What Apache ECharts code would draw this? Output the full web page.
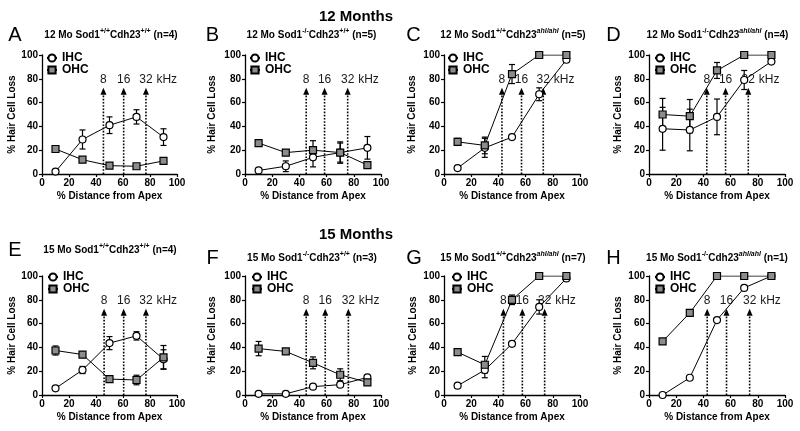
<!DOCTYPE html>
<html><head><meta charset="utf-8">
<script src="https://cdn.jsdelivr.net/npm/echarts@6/dist/echarts.min.js"></script>
<style>html,body{margin:0;padding:0;background:#fff}#c{width:800px;height:431px}</style>
</head><body><div id="c"></div>
<script>
// ---------- DATA ----------
const distances = [10, 30, 50, 70, 90];
const rowTitles = ['12 Months', '15 Months'];
const panelLetters = ['A', 'B', 'C', 'D', 'E', 'F', 'G', 'H'];
const panelAges = ['12 Mo', '12 Mo', '12 Mo', '12 Mo', '15 Mo', '15 Mo', '15 Mo', '15 Mo'];
const sodGenotypes = ['+/+', '-/-', '+/+', '-/-', '+/+', '-/-', '+/+', '-/-'];
const cdhGenotypes = ['+/+', '+/+', 'ahl/ahl', 'ahl/ahl', '+/+', '+/+', 'ahl/ahl', 'ahl/ahl'];
const nCounts = [4, 5, 5, 4, 4, 3, 7, 1];
const freqLabels = ['8', '16', '32'];
const freqUnit = 'kHz';
const seriesNames = ['IHC', 'OHC'];
const xAxisTitle = '% Distance from Apex';
const yAxisTitle = '% Hair Cell Loss';

// Panel A
const ihcA = [2, 29, 41, 48, 31];      const ihcErrA = [0, 8, 7, 6, 7];
const ohcA = [21, 12, 7, 6.5, 11];     const ohcErrA = [2.5, 1, 0, 0, 1];
const freqA = [45.5, 60.5, 77];
// Panel B
const ihcB = [3, 6.5, 14, 18, 22];     const ihcErrB = [1, 4.5, 8, 9, 9.5];
const ohcB = [26, 18, 20, 18, 7.5];    const ohcErrB = [2, 2, 8, 8, 2];
const freqB = [45, 58.5, 75.5];
// Panel C
const ihcC = [5, 22, 31, 67, 96];      const ihcErrC = [0, 8, 2, 5.4, 2];
const ohcC = [27, 24, 84, 100, 100];   const ohcErrC = [3, 7, 8, 0, 0];
const freqC = [42.6, 57, 73];
// Panel D
const ihcD = [38, 37, 48, 79, 94.5];   const ihcErrD = [18, 17.5, 15, 8, 1];
const ohcD = [50, 48.6, 87, 100, 100]; const ohcErrD = [13.5, 14, 6.7, 0, 0];
const freqD = [42.5, 56.3, 73];
// Panel E
const ihcE = [5.6, 21, 43.6, 49.7, 30];   const ihcErrE = [0, 3, 5.5, 3.5, 8];
const ohcE = [37.4, 34, 13.4, 12.6, 31.6]; const ohcErrE = [3.8, 1.5, 1.5, 4, 10];
const freqE = [46, 60.5, 77];
// Panel F
const ihcF = [1, 1, 7, 8.7, 14.8];     const ihcErrF = [0, 0, 1, 1, 1];
const ohcF = [39, 36.6, 27, 17, 10.6]; const ohcErrF = [6, 2, 5, 5, 2];
const freqF = [45, 59, 76];
// Panel G
const ihcG = [7.8, 21, 43, 74, 98];    const ihcErrG = [0, 6.5, 1, 6, 1];
const ohcG = [36, 25.4, 80, 100, 100]; const ohcErrG = [1, 7, 4, 0, 0];
const freqG = [43.7, 57.6, 74];
// Panel H (n=1, no error bars)
const ihcH = [0, 14.5, 63, 90, 100];   const ihcErrH = [0, 0, 0, 0, 0];
const ohcH = [45, 69, 100, 100, 100];  const ohcErrH = [0, 0, 0, 0, 0];
const freqH = [42.8, 57, 74];

const ARROW_TIP = 72.5;
const ARROW_LABEL = 79;

// ---------- LAYOUT ----------
const panels = [
  {ihc: ihcA, ihcErr: ihcErrA, ohc: ohcA, ohcErr: ohcErrA, freq: freqA},
  {ihc: ihcB, ihcErr: ihcErrB, ohc: ohcB, ohcErr: ohcErrB, freq: freqB},
  {ihc: ihcC, ihcErr: ihcErrC, ohc: ohcC, ohcErr: ohcErrC, freq: freqC},
  {ihc: ihcD, ihcErr: ihcErrD, ohc: ohcD, ohcErr: ohcErrD, freq: freqD},
  {ihc: ihcE, ihcErr: ihcErrE, ohc: ohcE, ohcErr: ohcErrE, freq: freqE},
  {ihc: ihcF, ihcErr: ihcErrF, ohc: ohcF, ohcErr: ohcErrF, freq: freqF},
  {ihc: ihcG, ihcErr: ihcErrG, ohc: ohcG, ohcErr: ohcErrG, freq: freqG},
  {ihc: ihcH, ihcErr: ihcErrH, ohc: ohcH, ohcErr: ohcErrH, freq: freqH}
];
const colLeft = [42, 245, 444, 649];
const colWidth = [135, 136, 136, 136];
const rowTop = [55, 276];
const plotH = 119;
const yNameGap = [23, 28, 27, 26, 24, 28, 26, 26];
const legendLeft = [46, 249, 447, 654, 47, 251, 451, 654];
const legendTop = [52, 271];
const headerY = [35, 35, 35, 35, 250, 258, 258, 258];
const letterX = [15, 212.5, 413.5, 613.5, 15, 212.5, 414, 613.5];
const subX = [111, 311.5, 513, 717.5, 110, 312, 513, 717];
const rowTitleY = [17, 235];

const FONT = '"Liberation Sans", Arial, sans-serif';
const GRAY = '#8c8c8c';

function errRender(params, api) {
  const x = api.value(0), m = api.value(1), e = api.value(2);
  if (!e) return null;
  const lo = api.coord([x, m - e]), hi = api.coord([x, m + e]);
  const cw = 3, st = {stroke: '#000', lineWidth: 1.2};
  return {type: 'group', children: [
    {type: 'line', shape: {x1: lo[0], y1: lo[1], x2: hi[0], y2: hi[1]}, style: st},
    {type: 'line', shape: {x1: lo[0] - cw, y1: lo[1], x2: lo[0] + cw, y2: lo[1]}, style: st},
    {type: 'line', shape: {x1: hi[0] - cw, y1: hi[1], x2: hi[0] + cw, y2: hi[1]}, style: st}
  ]};
}

function arrowRender(params, api) {
  const x = api.value(0), idx = api.value(1);
  const base = api.coord([x, 0]);
  const tip = api.coord([x, ARROW_TIP]);
  const lbl = api.coord([x, ARROW_LABEL]);
  const hh = 7, hw = 3;
  const children = [
    {type: 'line', shape: {x1: base[0], y1: base[1], x2: tip[0], y2: tip[1] + hh},
     style: {stroke: '#000', lineWidth: 1.6, lineDash: [1.6, 1.6]}},
    {type: 'polygon', shape: {points: [[tip[0], tip[1]], [tip[0] - hw, tip[1] + hh], [tip[0] + hw, tip[1] + hh]]},
     style: {fill: '#000'}},
    {type: 'text', style: {text: freqLabels[idx], x: lbl[0], y: lbl[1], align: 'center', verticalAlign: 'middle',
      textAlign: 'center', textVerticalAlign: 'middle', fontSize: 12, fontFamily: FONT, fill: '#1a1a1a'}}
  ];
  if (idx === freqLabels.length - 1) {
    children.push({type: 'text', style: {text: freqUnit, x: lbl[0] + 10.5, y: lbl[1], align: 'left', verticalAlign: 'middle',
      textAlign: 'left', textVerticalAlign: 'middle', fontSize: 12, fontFamily: FONT, fill: '#1a1a1a'}});
  }
  return {type: 'group', children};
}

const grids = [], xAxes = [], yAxes = [], series = [], legends = [], graphics = [];
const axisCommon = {
  type: 'value', min: 0, max: 100, interval: 20,
  axisLine: {show: true, onZero: false, lineStyle: {color: '#000', width: 1.3}},
  axisTick: {show: true, length: 3, lineStyle: {color: '#000', width: 1.2}},
  splitLine: {show: false},
  axisLabel: {color: '#000', fontSize: 10, fontWeight: 'bold', fontFamily: FONT, margin: 4},
  nameLocation: 'middle',
  nameTextStyle: {color: '#000', fontSize: 10, fontWeight: 'bold', fontFamily: FONT}
};

panels.forEach((p, i) => {
  const col = i % 4, row = Math.floor(i / 4);
  grids.push({left: colLeft[col], top: rowTop[row], width: colWidth[col], height: plotH, containLabel: false});
  xAxes.push(Object.assign({}, axisCommon, {gridIndex: i, name: xAxisTitle, nameGap: 17}));
  yAxes.push(Object.assign({}, axisCommon, {gridIndex: i, name: yAxisTitle, nameGap: yNameGap[i]}));

  series.push({type: 'custom', name: 'IHC err', xAxisIndex: i, yAxisIndex: i, z: 1, silent: true,
    renderItem: errRender, data: distances.map((d, k) => [d, p.ihc[k], p.ihcErr[k]])});
  series.push({type: 'custom', name: 'OHC err', xAxisIndex: i, yAxisIndex: i, z: 1, silent: true,
    renderItem: errRender, data: distances.map((d, k) => [d, p.ohc[k], p.ohcErr[k]])});
  series.push({type: 'custom', name: 'freq', xAxisIndex: i, yAxisIndex: i, z: 1, silent: true,
    renderItem: arrowRender, data: p.freq.map((f, k) => [f, k])});
  series.push({type: 'line', name: seriesNames[0], xAxisIndex: i, yAxisIndex: i, z: 3,
    symbol: 'circle', symbolSize: 7, showAllSymbol: true,
    lineStyle: {color: '#000', width: 1},
    itemStyle: {color: '#fff', borderColor: '#000', borderWidth: 1.2},
    data: distances.map((d, k) => [d, p.ihc[k]])});
  series.push({type: 'line', name: seriesNames[1], xAxisIndex: i, yAxisIndex: i, z: 4,
    symbol: 'rect', symbolSize: 7, showAllSymbol: true,
    lineStyle: {color: '#000', width: 1},
    itemStyle: {color: GRAY, borderColor: '#000', borderWidth: 1.2},
    data: distances.map((d, k) => [d, p.ohc[k]])});

  legends.push({orient: 'vertical', left: legendLeft[i], top: legendTop[row], padding: 0,
    itemWidth: 10, itemHeight: 9, itemGap: 0, selectedMode: false, data: seriesNames,
    textStyle: {color: '#000', fontSize: 12, fontWeight: 'bold', fontFamily: FONT, lineHeight: 12}});

  graphics.push({type: 'text', x: letterX[i], y: headerY[i], silent: true,
    style: {text: panelLetters[i], align: 'center', verticalAlign: 'middle', textAlign: 'center', textVerticalAlign: 'middle',
      fontSize: 20, fontFamily: FONT, fill: '#000'}});
  const cdhIsAhl = cdhGenotypes[i].indexOf('ahl') >= 0;
  const sub = '{b|' + panelAges[i] + ' Sod1}{s|' + sodGenotypes[i] + '}{b|Cdh23}{' + (cdhIsAhl ? 'si' : 's') + '|' +
    cdhGenotypes[i] + '}{b| (n=' + nCounts[i] + ')}';
  graphics.push({type: 'text', x: subX[i], y: headerY[i], silent: true,
    style: {text: sub, align: 'center', verticalAlign: 'middle', textAlign: 'center', textVerticalAlign: 'middle', fill: '#000',
      rich: {
        b: {fontSize: 10, fontWeight: 'bold', fontFamily: FONT, fill: '#000', lineHeight: 14},
        s: {fontSize: 7, fontWeight: 'bold', fontFamily: FONT, fill: '#000', lineHeight: 8, verticalAlign: 'top'},
        si: {fontSize: 7, fontWeight: 'bold', fontStyle: 'italic', fontFamily: FONT, fill: '#000', lineHeight: 8, verticalAlign: 'top'}
      }}});
});

rowTitles.forEach((t, r) => {
  graphics.push({type: 'text', x: 356, y: rowTitleY[r], silent: true,
    style: {text: t, align: 'center', verticalAlign: 'middle', textAlign: 'center', textVerticalAlign: 'middle',
      fontSize: 15, fontWeight: 'bold', fontFamily: FONT, fill: '#000'}});
});

const chart = echarts.init(document.getElementById('c'), null, {renderer: 'canvas'});
chart.setOption({
  animation: false,
  backgroundColor: '#fff',
  grid: grids, xAxis: xAxes, yAxis: yAxes, series: series, legend: legends, graphic: graphics
});
</script></body></html>
